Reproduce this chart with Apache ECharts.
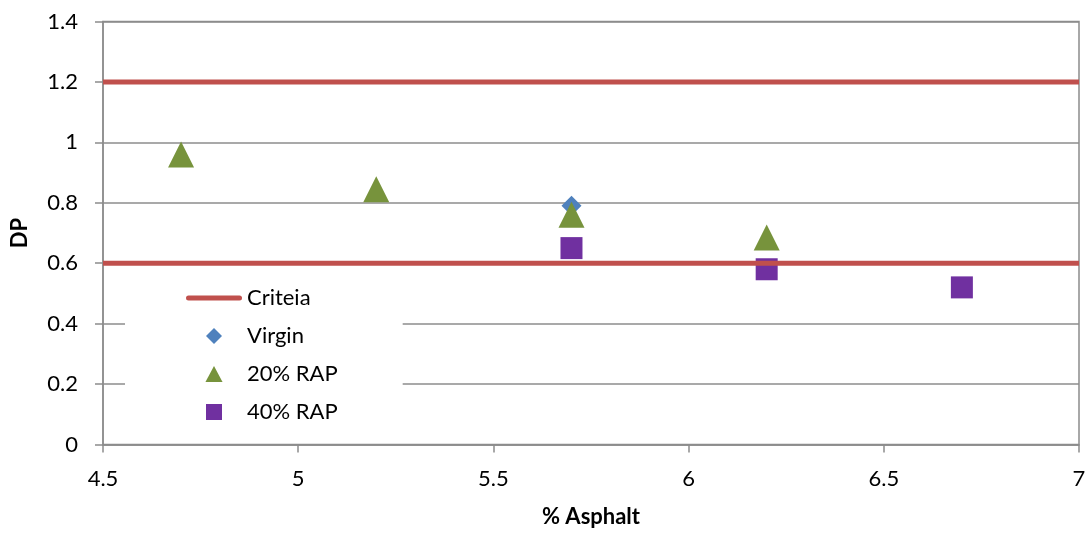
<!DOCTYPE html>
<html>
<head>
<meta charset="utf-8">
<script src="https://cdn.jsdelivr.net/npm/echarts@6/dist/echarts.min.js"></script>
<style>
  html, body { margin: 0; padding: 0; background: #fff; }
  #chart { width: 1090px; height: 535px; }
</style>
</head>
<body>
<div id="chart"></div>
<script>
// Criteria limits for DP
const criteriaLevels = [1.2, 0.6];
const xRange = [4.5, 7];

// Measured points
const virginX = [5.7];
const virginY = [0.79];
const rap20X = [4.7, 5.2, 5.7, 6.2];
const rap20Y = [0.96, 0.845, 0.76, 0.685];
const rap40X = [5.7, 6.2, 6.7];
const rap40Y = [0.65, 0.58, 0.52];

const seriesNames = ['Criteia', 'Virgin', '20% RAP', '40% RAP'];

const FONT = 'Lato';
const AXIS_GRAY = '#8c8c8c';

// Legend glyphs (kept at their own aspect inside the legend item box)
const ICON_LINE = 'path://M2.5,0 L53.5,0 A2.5,2.5 0 0 1 53.5,5 L2.5,5 A2.5,2.5 0 0 1 2.5,0 Z';
const ICON_DIAMOND = 'path://M9,0 L18,9 L9,18 L0,9 Z';
const ICON_TRIANGLE = 'path://M8,0 L16,15 L0,15 Z';
const ICON_SQUARE = 'path://M0,0 L16,0 L16,16 L0,16 Z';

function pairs(xs, ys) {
  return xs.map((x, i) => [x, ys[i]]);
}

const criteriaSeries = criteriaLevels.map(level => ({
  name: seriesNames[0],
  type: 'line',
  symbol: 'none',
  silent: true,
  data: xRange.map(x => [x, level]),
  lineStyle: { color: '#C0504D', width: 5 },
  itemStyle: { color: '#C0504D' }
}));

const option = {
  animation: false,
  backgroundColor: '#ffffff',
  grid: {
    left: 103, right: 11, top: 21.5, bottom: 90.5,
    show: true, borderColor: AXIS_GRAY, borderWidth: 1.5
  },
  legend: {
    data: [
      { name: seriesNames[0], icon: ICON_LINE },
      { name: seriesNames[1], icon: ICON_DIAMOND },
      { name: seriesNames[2], icon: ICON_TRIANGLE },
      { name: seriesNames[3], icon: ICON_SQUARE }
    ],
    orient: 'vertical',
    left: 125,
    top: 280,
    padding: [7, 65, 8, 61],
    backgroundColor: '#ffffff',
    itemWidth: 56,
    itemHeight: 16,
    itemGap: 16,
    symbolKeepAspect: true,
    selectedMode: false,
    textStyle: { fontFamily: FONT, fontSize: 22, color: '#000' }
  },
  xAxis: {
    type: 'value',
    min: 4.5, max: 7, interval: 0.5,
    name: '% Asphalt',
    nameLocation: 'middle',
    nameGap: 61,
    nameTextStyle: { fontFamily: FONT, fontSize: 22, fontWeight: 'bold', color: '#000' },
    axisLine: { show: true, lineStyle: { color: AXIS_GRAY, width: 1.5 } },
    axisTick: { show: true, length: 8, lineStyle: { color: AXIS_GRAY, width: 1.5 } },
    axisLabel: { margin: 23, fontFamily: FONT, fontSize: 22, color: '#000' },
    splitLine: { show: false }
  },
  yAxis: {
    type: 'value',
    min: 0, max: 1.4, interval: 0.2,
    name: 'DP',
    nameLocation: 'middle',
    nameGap: 72,
    nameRotate: 90,
    nameTextStyle: { fontFamily: FONT, fontSize: 22, fontWeight: 'bold', color: '#000' },
    axisLine: { show: true, lineStyle: { color: AXIS_GRAY, width: 1.5 } },
    axisTick: { show: true, length: 8, lineStyle: { color: AXIS_GRAY, width: 1.5 } },
    axisLabel: { margin: 25, fontFamily: FONT, fontSize: 22, color: '#000' },
    splitLine: { show: true, lineStyle: { color: AXIS_GRAY, width: 1.5 } }
  },
  series: [
    ...criteriaSeries,
    {
      name: seriesNames[1],
      type: 'scatter',
      symbol: 'diamond',
      symbolSize: 20,
      symbolKeepAspect: true,
      data: pairs(virginX, virginY),
      itemStyle: { color: '#4F81BD', opacity: 1 }
    },
    {
      name: seriesNames[2],
      type: 'scatter',
      symbol: 'triangle',
      symbolSize: 26,
      symbolKeepAspect: true,
      data: pairs(rap20X, rap20Y),
      itemStyle: { color: '#77933C', opacity: 1 }
    },
    {
      name: seriesNames[3],
      type: 'scatter',
      symbol: 'rect',
      symbolSize: 22,
      symbolKeepAspect: true,
      data: pairs(rap40X, rap40Y),
      itemStyle: { color: '#7030A0', opacity: 1 }
    }
  ]
};

const chart = echarts.init(document.getElementById('chart'), null, { renderer: 'canvas' });
chart.setOption(option);
</script>
</body>
</html>
